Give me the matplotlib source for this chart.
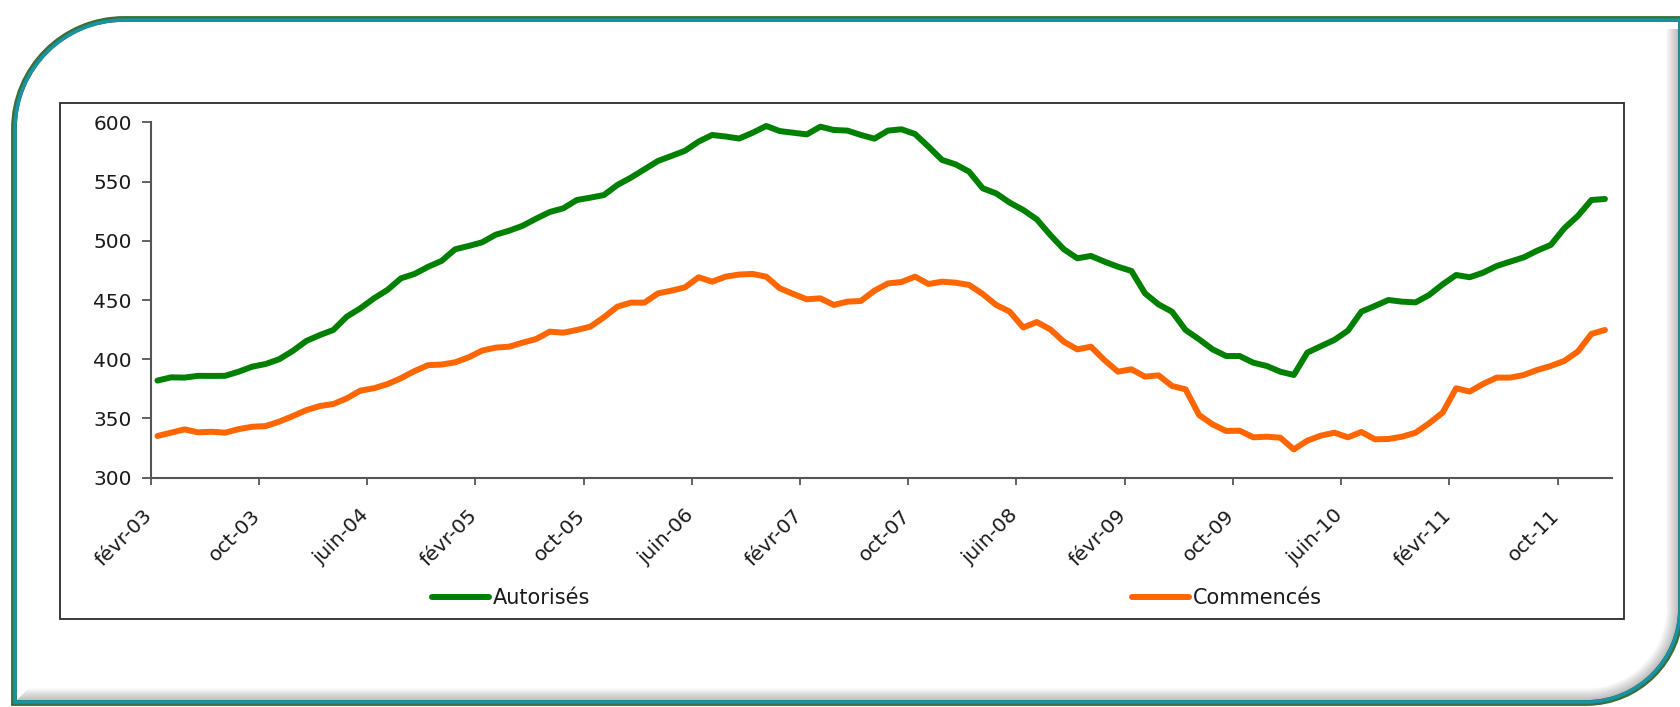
import matplotlib
matplotlib.use('Agg')
import matplotlib.pyplot as plt
from matplotlib.path import Path
from matplotlib.patches import PathPatch, Rectangle
from matplotlib.lines import Line2D
from matplotlib.transforms import Affine2D, ScaledTranslation

# monthly series, févr-03 .. janv-12
autorises = [382, 384.7, 384.5, 386, 385.9, 386, 389.5, 393.7, 396, 400, 407, 415.4, 420.4, 424.7, 436, 443,
             451.4, 458.5, 468.3, 472, 478, 483,
             492.8, 495.6, 498.7, 505.1, 508.5, 512.7, 518.7, 524.3, 527.4, 534.4, 536.4, 538.6, 547.1, 553.3,
             560.3, 567.4, 571.6, 576, 583.7, 589.3, 588,
             586.3, 591.2, 596.9, 592.6, 591.2, 589.8, 596.3, 593.5, 593, 589.3, 586.2, 593, 594.1, 590.1,
             579.4, 568.2, 564.5, 558.3, 544.3, 540, 532.2,
             526, 518.1, 504.9, 492.8, 485.2, 487.2, 482.4, 478.1, 474.5, 455.6, 446.3, 440.1, 424.7, 416.8,
             408.3, 402.7, 402.7, 397.1, 394.3, 389.5, 386.7, 405.6,
             411, 416.3, 424.1, 440.2, 445, 450, 448.6, 448, 454.2, 463.2, 471.1, 469.2, 473.1, 478.7, 482.4,
             486, 491.7, 496.5, 510.6, 521, 534.4, 535.3]

commences = [335.2, 338, 340.8, 338.3, 338.8, 338, 341, 343, 343.6, 347.3, 352, 357, 360.5, 362.2, 367, 373.5,
              375.5, 379, 384, 390, 395, 395.5,
              397.4, 401.6, 407.3, 409.8, 410.6, 414, 417.1, 423.3, 422.4, 424.7, 427.5, 435.4, 444.4, 447.8,
              447.8, 455.6, 457.9, 460.7, 469.2, 465.5, 469.7,
              471.5, 472, 469.7, 459.9, 455.1, 450.6, 451.4, 445.8, 448.6, 449.2, 457.9, 464, 465.2, 469.7,
              463.5, 465.5, 464.6, 462.7, 455.1, 445.8, 440.2,
              426.8, 431.4, 425.2, 414.8, 408.3, 410.6, 399.3, 389.5, 391.5, 385.3, 386.4, 377.4, 374.6, 352.9,
              345, 339.4, 339.7, 334.1, 334.6, 333.8, 323.9, 331.3,
              335.5, 338, 334.1, 338.6, 332.4, 332.7, 334.6, 338, 345.9, 354.9, 375.5, 372.7, 379.2, 384.5,
              384.5, 386.7, 391, 394.3, 398.6, 406.5, 421.4, 424.7]

tick_labels = ['févr-03', 'oct-03', 'juin-04', 'févr-05', 'oct-05', 'juin-06', 'févr-07',
               'oct-07', 'juin-08', 'févr-09', 'oct-09', 'juin-10', 'févr-11', 'oct-11']

plt.rcParams['font.family'] = ['DejaVu Sans']
plt.rcParams['font.size'] = 14.5

W, H = 1680, 707
fig = plt.figure(figsize=(W / 100, H / 100), dpi=100)
px = Affine2D().scale(1 / 100.) + fig.dpi_scale_trans  # pixel units, origin bottom-left

K = 0.5523


def frame_path(L, R, T, B, r1, r2):
    verts = [(L, B), (L, T - r1),
             (L, T - r1 + K * r1), (L + r1 - K * r1, T), (L + r1, T),
             (R, T), (R, B + r2),
             (R, B + r2 - K * r2), (R - r2 + K * r2, B), (R - r2, B),
             (L, B), (L, B)]
    codes = [Path.MOVETO, Path.LINETO, Path.CURVE4, Path.CURVE4, Path.CURVE4,
             Path.LINETO, Path.LINETO, Path.CURVE4, Path.CURVE4, Path.CURVE4,
             Path.LINETO, Path.CLOSEPOLY]
    return Path(verts, codes)


def shadow_path(L, R, T, B, r2, d):
    rr = r2 - d
    cx, cy = R - r2, B + r2
    verts = [(R - d, T - 10), (R - d, cy),
             (R - d, cy - K * rr), (cx + K * rr, B + d), (cx, B + d),
             (L + d, B + d)]
    codes = [Path.MOVETO, Path.LINETO, Path.CURVE4, Path.CURVE4, Path.CURVE4, Path.LINETO]
    return Path(verts, codes)


L, R, T, B = 14, 1681, H - 19, 4
for d in range(1, 15):
    fig.patches.append(PathPatch(shadow_path(L, R, T, B, 95, d), fill=False, transform=px,
                                 edgecolor='#606060', alpha=0.4 * (1 - d / 15.), lw=1.0))
fig.patches.append(PathPatch(frame_path(L, R, T, B, 110, 95), fill=False, transform=px,
                             edgecolor='#3c6e3a', lw=4.2))
fig.patches.append(PathPatch(frame_path(L + 1, R - 1, T - 1, B + 1, 109, 94), fill=False, transform=px,
                             edgecolor='#1693a6', lw=2.4))

# inner chart box
fig.patches.append(Rectangle((60, H - 619), 1564, 516, fill=False, transform=px,
                             edgecolor='#2a2a2a', lw=1.3))

ax = fig.add_axes([150.7 / W, (H - 477.7) / H, 1461 / W, 355.4 / H])
x = [i + 0.5 for i in range(len(autorises))]
ax.plot(x, autorises, color='#008000', lw=4.3, solid_joinstyle='round', solid_capstyle='round')
ax.plot(x, commences, color='#ff6600', lw=4.3, solid_joinstyle='round', solid_capstyle='round')

ax.set_xlim(0, len(autorises))
ax.set_ylim(300, 600)
ax.set_yticks(range(300, 601, 50))
tick_pos = list(range(0, len(autorises), 8))
ax.set_xticks(tick_pos)
ax.set_xticklabels([])

# rotated month labels, anchored a little left of each tick like Excel does
lab_trans = ax.get_xaxis_transform() + ScaledTranslation(-8 / 100., -28 / 100., fig.dpi_scale_trans)
for pos, lab in zip(tick_pos, tick_labels):
    ax.text(pos, 0, lab, transform=lab_trans, rotation=45, ha='right', va='top',
            rotation_mode='anchor', fontsize=14.5, color='#1a1a1a')

for s in ['top', 'right']:
    ax.spines[s].set_visible(False)
for s in ['left', 'bottom']:
    ax.spines[s].set_color('#555555')
    ax.spines[s].set_linewidth(1.5)
ax.tick_params(axis='y', direction='out', length=6.5, width=1.3, color='#555555', pad=7,
               labelsize=14.5, labelcolor='#1a1a1a')
ax.tick_params(axis='x', direction='out', length=5, width=1.3, color='#555555')
ax.patch.set_alpha(0)

# legend, spread like the original
for label, color, xpos in [('Autorisés', '#008000', 432), ('Commencés', '#ff6600', 1132)]:
    h = Line2D([], [], color=color, lw=4.3, solid_capstyle='round')
    fig.legend([h], [label], loc='center left', bbox_to_anchor=(xpos / W, 1 - 598 / H),
               frameon=False, handlelength=2.75, handletextpad=0.15, borderpad=0,
               borderaxespad=0, fontsize=15, labelcolor='#1a1a1a')

plt.savefig('out.png', dpi=100)
plt.close()
